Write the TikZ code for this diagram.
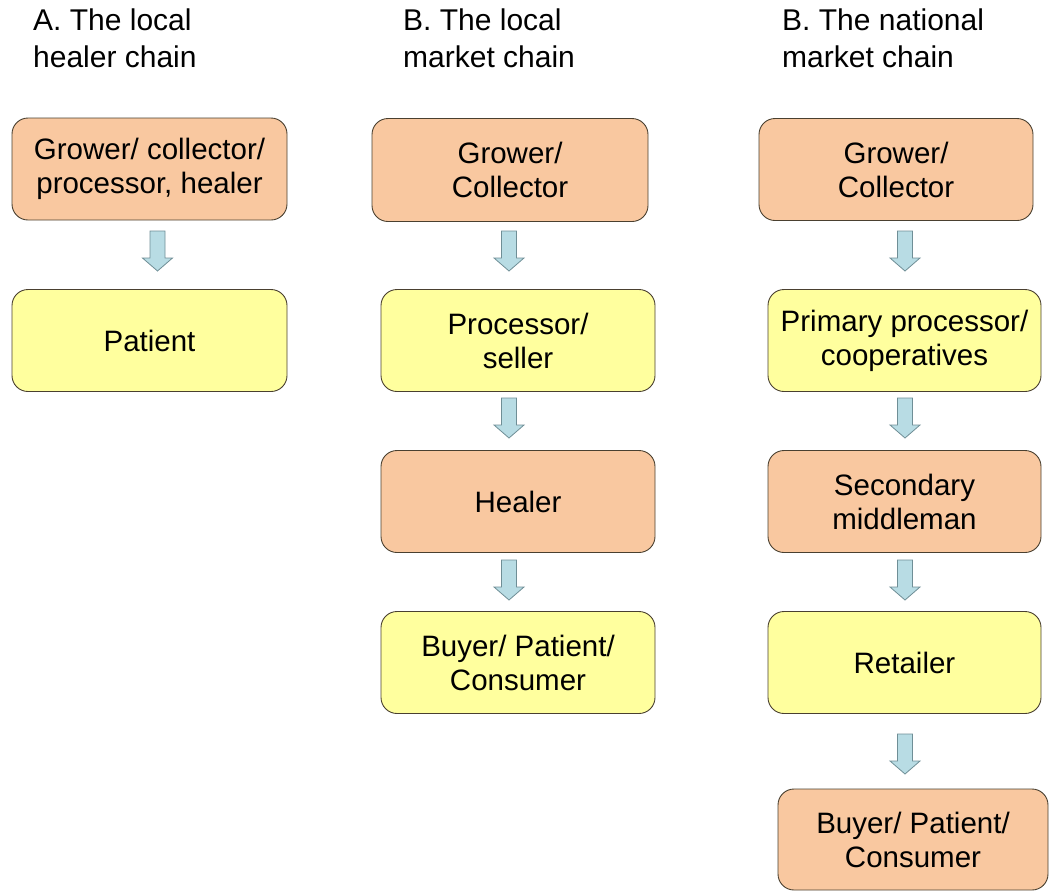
\documentclass[tikz,border=0pt]{standalone}
\usepackage{fontspec}
\setmainfont{Liberation Sans}
\definecolor{peach}{HTML}{F9C8A0}
\definecolor{lemon}{HTML}{FFFF9E}
\definecolor{arrowfill}{HTML}{B8DCE4}
\definecolor{arrowline}{HTML}{6F8E96}
\definecolor{boxline}{HTML}{4A4030}
\tikzset{
  box/.style={draw=boxline, line width=0.9pt, rounded corners=16pt, align=center,
    font=\fontsize{29.5}{34}\selectfont, inner sep=2pt},
  orangebox/.style={box, fill=peach},
  yellowbox/.style={box, fill=lemon},
  title/.style={anchor=north west, align=left, font=\fontsize{30}{37}\selectfont, inner sep=0pt},
  flowline/.style={draw=arrowline, fill=arrowfill, line width=0.8pt, line join=miter},
  downarrow/.pic={\path[flowline] (-7.5,-20) -- (7.5,-20) -- (7.5,7) -- (15,7) -- (0,20) -- (-15,7) -- (-7.5,7) -- cycle;},
}
\begin{document}
\begin{tikzpicture}[x=1pt,y=-1pt]
\useasboundingbox (0,0) rectangle (1049,892);
% titles
\node[title] (ta) at (33,9) {A. The local\\healer chain};
\node[title] (tb) at (403,9) {B. The local\\market chain};
\node[title] (tc) at (782,9) {B. The national\\market chain};
% column A
\node[orangebox, minimum width=275pt, minimum height=102pt] (a1) at (149.5,169) {Grower/ collector/\\processor, healer};
\node[yellowbox, minimum width=275pt, minimum height=102pt] (a2) at (149.5,340.5) {Patient};
% column B
\node[orangebox, minimum width=276pt, minimum height=103pt] (b1) at (510,170) {Grower/\\Collector};
\node[yellowbox, minimum width=274pt, minimum height=102pt] (b2) at (518,340.5) {Processor/\\seller};
\node[orangebox, minimum width=274pt, minimum height=102pt] (b3) at (518,501.5) {Healer};
\node[yellowbox, minimum width=274pt, minimum height=102pt] (b4) at (518,662.5) {Buyer/ Patient/\\Consumer};
% column C
\node[orangebox, minimum width=274pt, minimum height=102pt] (c1) at (896,169.5) {Grower/\\Collector};
\node[yellowbox, minimum width=273pt, minimum height=102pt] (c2) at (904.5,340.5) {Primary processor/\\cooperatives};
\node[orangebox, minimum width=273pt, minimum height=102pt] (c3) at (904.5,501.5) {Secondary\\middleman};
\node[yellowbox, minimum width=273pt, minimum height=102pt] (c4) at (904.5,662.5) {Retailer};
\node[orangebox, minimum width=270pt, minimum height=101pt] (c5) at (913,839.5) {Buyer/ Patient/\\Consumer};
% arrows
\pic at (157.5,251) {downarrow};
\pic at (509,251) {downarrow};
\pic at (509,418) {downarrow};
\pic at (509,580) {downarrow};
\pic at (905,251) {downarrow};
\pic at (905,418) {downarrow};
\pic at (905,580) {downarrow};
\pic at (905,754) {downarrow};
\end{tikzpicture}
\end{document}
